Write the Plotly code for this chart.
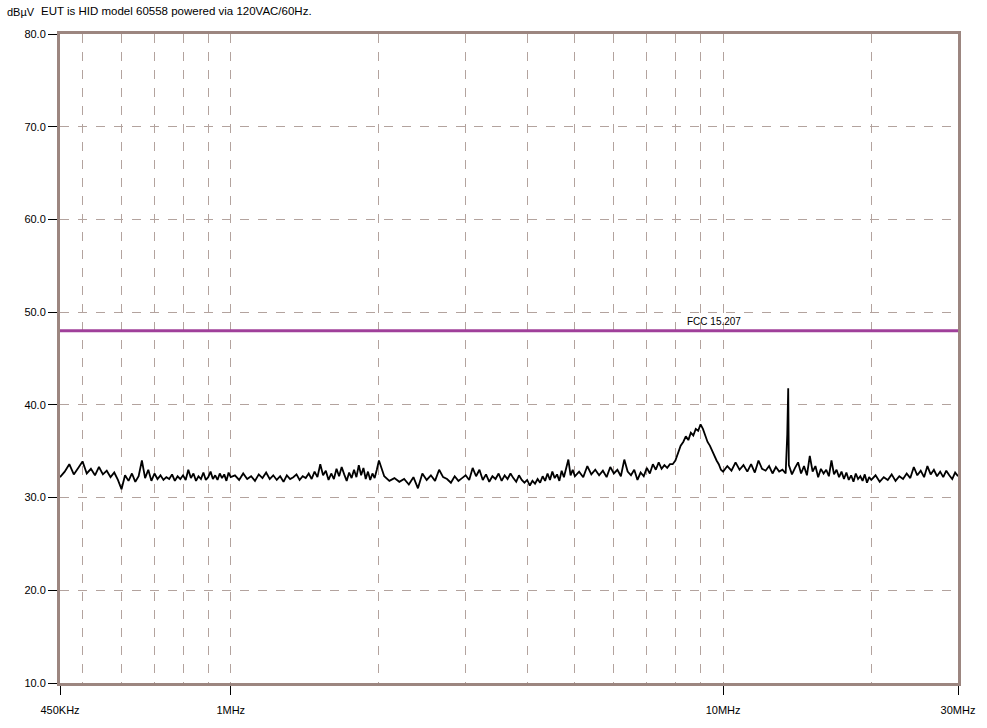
import plotly.graph_objects as go
import math

# ---- data ----
freq_mhz = [
    0.45, 0.46, 0.47, 0.48, 0.49, 0.50, 0.51, 0.52, 0.53, 0.54, 0.55, 0.56, 0.57, 0.58, 0.59,
    0.60, 0.61, 0.62, 0.63, 0.64, 0.65, 0.66, 0.67, 0.68, 0.69, 0.70, 0.71, 0.72, 0.73, 0.74,
    0.75, 0.76, 0.77, 0.78, 0.79, 0.80, 0.81, 0.82, 0.83, 0.84, 0.85, 0.86, 0.87, 0.88, 0.89,
    0.90, 0.91, 0.92, 0.93, 0.94, 0.95, 0.96, 0.97, 0.98, 0.99, 1.00,
    1.02, 1.04, 1.06, 1.08, 1.10, 1.12, 1.14, 1.16, 1.18, 1.20, 1.22, 1.24, 1.26, 1.28, 1.30,
    1.32, 1.34, 1.36, 1.38, 1.40, 1.42, 1.44, 1.46, 1.48, 1.50, 1.52, 1.54, 1.56, 1.58, 1.60,
    1.62, 1.64, 1.66, 1.68, 1.70, 1.72, 1.74, 1.76, 1.78, 1.80, 1.82, 1.84, 1.86, 1.88, 1.90,
    1.92, 1.94, 1.96, 1.98, 2.00,
    2.05, 2.10, 2.15, 2.20, 2.25, 2.30, 2.35, 2.40, 2.45, 2.50, 2.55, 2.60, 2.65, 2.70, 2.75,
    2.80, 2.85, 2.90, 2.95, 3.00, 3.05, 3.10, 3.15, 3.20, 3.25, 3.30, 3.35, 3.40, 3.45, 3.50,
    3.55, 3.60, 3.65, 3.70, 3.75, 3.80, 3.85, 3.90, 3.95, 4.00, 4.05, 4.10, 4.15, 4.20, 4.25,
    4.30, 4.35, 4.40, 4.45, 4.50, 4.55, 4.60, 4.65, 4.70, 4.75, 4.80, 4.85, 4.90, 4.95, 5.00,
    5.1, 5.2, 5.3, 5.4, 5.5, 5.6, 5.7, 5.8, 5.9, 6.0, 6.1, 6.2, 6.3, 6.4, 6.5, 6.6, 6.7, 6.8,
    6.9, 7.0, 7.1, 7.2, 7.3, 7.4, 7.5, 7.6, 7.7, 7.8, 7.9, 8.0, 8.1, 8.2, 8.3, 8.4, 8.5, 8.6,
    8.7, 8.8, 8.9, 9.0, 9.1, 9.2, 9.3, 9.4, 9.5, 9.6, 9.7, 9.8, 9.9, 10.0,
    10.2, 10.4, 10.6, 10.8, 11.0, 11.2, 11.4, 11.6, 11.8, 12.0, 12.2, 12.4, 12.6, 12.8, 13.0,
    13.2, 13.4, 13.5, 13.56, 13.6, 13.8, 14.0, 14.2, 14.4, 14.6, 14.8, 15.0, 15.2, 15.4, 15.6,
    15.8, 16.0, 16.2, 16.4, 16.6, 16.8, 17.0, 17.2, 17.4, 17.6, 17.8, 18.0, 18.2, 18.4, 18.6,
    18.8, 19.0, 19.2, 19.4, 19.6, 19.8, 20.0,
    20.4, 20.8, 21.2, 21.6, 22.0, 22.4, 22.8, 23.2, 23.6, 24.0, 24.4, 24.8, 25.2, 25.6, 26.0,
    26.4, 26.8, 27.2, 27.6, 28.0, 28.4, 28.8, 29.2, 29.6, 30.0,
]

level_dbuv = [
    32.2, 32.8, 33.6, 32.5, 33.2, 33.9, 32.6, 33.1, 32.4, 33.3, 32.5, 32.9, 32.2, 32.7, 31.9,
    30.9, 32.4, 31.8, 32.6, 31.7, 32.3, 34.0, 32.1, 33.0, 31.8, 32.6, 32.0, 32.4, 31.9, 32.2,
    32.0, 32.5, 31.8, 32.3, 32.0, 32.4, 31.9, 33.0, 32.1, 32.6, 31.8, 32.3, 32.0, 32.7, 31.9,
    32.2, 32.8, 32.0, 32.4, 31.9, 32.6, 32.1, 32.5, 31.8, 32.7, 32.2,
    32.4, 31.9, 32.6, 32.0, 32.3, 31.8, 32.5, 32.1, 32.7, 32.0, 32.4, 31.9, 32.3, 31.7, 32.4,
    32.0, 32.2, 32.5, 31.9, 32.3, 32.1, 32.6, 32.0, 32.8, 32.2, 33.6, 32.4, 32.9, 31.9, 32.6,
    32.0, 33.1, 32.3, 33.3, 32.5, 31.8, 32.7, 32.1, 33.0, 32.2, 33.5, 32.4, 33.2, 32.0, 32.8,
    31.9, 32.6, 32.1, 33.0, 34.0,
    32.3, 31.8, 32.1, 31.7, 32.0, 31.4, 32.2, 31.0, 32.6, 31.9, 32.4, 31.8, 33.0, 32.2, 32.0,
    31.6, 32.3, 31.8, 32.1, 32.4, 31.9, 33.2, 32.3, 33.0, 31.9, 32.5, 31.7, 32.3, 32.0, 32.6,
    31.8, 32.4, 32.0, 32.6, 32.1, 31.7, 32.4, 31.9, 31.6, 31.9, 31.3, 31.8, 31.5, 32.0, 31.6,
    32.3, 31.8, 32.6, 31.9, 32.8, 32.1, 32.5, 31.8, 32.9, 32.2, 33.1, 34.1, 32.4, 33.0, 32.3,
    32.8, 32.2, 33.4, 32.5, 33.0, 32.4, 32.9, 32.2, 33.3, 32.6, 33.0, 32.3, 34.1, 32.8, 32.4,
    33.0, 31.9, 32.7, 32.3, 33.2, 32.6, 33.6, 33.0, 33.8, 33.1, 33.5, 33.2, 33.6, 33.6, 34.0,
    34.8, 35.6, 36.0, 36.6, 36.2, 37.0, 36.7, 37.4, 37.2, 37.9, 37.4, 36.6, 36.0, 35.6, 35.0,
    34.6, 34.0, 33.6, 33.0, 32.8,
    33.4, 32.9, 33.8, 33.0, 33.5, 32.8, 33.6, 32.7, 34.0, 33.1, 32.9, 33.4, 32.6, 33.3, 32.8,
    33.0, 32.6, 36.8, 41.8, 33.5, 32.5, 33.2, 33.8, 32.6, 33.4, 32.4, 34.5, 32.8, 33.4, 32.2,
    33.1, 32.6, 33.0, 32.3, 34.0, 32.5, 33.0, 32.2, 32.8, 32.0, 32.7, 31.9, 32.4, 31.7, 32.6,
    32.0, 32.3, 31.8, 32.5, 31.6, 32.2, 31.9,
    32.4, 31.7, 32.2, 31.9, 32.5, 31.8, 32.3, 32.0, 32.6, 32.1, 33.3, 32.4, 32.9, 32.2, 33.4,
    32.5, 33.0, 32.3, 32.8, 32.2, 32.9, 32.4, 32.0, 32.7, 32.3,
]

limit_freq_mhz = [0.45, 30.0]
limit_dbuv = [48.0, 48.0]
limit_name = "FCC 15.207"

x_tick_vals = [0.45, 1, 10, 30]
x_tick_text = ["450KHz", "1MHz", "10MHz", "30MHz"]
x_grid_vals = [0.5, 0.6, 0.7, 0.8, 0.9, 2, 3, 4, 5, 6, 7, 8, 9, 20]
y_tick_vals = [10, 20, 30, 40, 50, 60, 70, 80]

unit_label = "dBµV"
title_text = "EUT is HID model 60558 powered via 120VAC/60Hz."

# ---- styling ----
FONT = "Liberation Sans Narrow, Liberation Sans, Arial, sans-serif"
FRAME = "#9c8680"
GRID = "#b3a39e"

fig = go.Figure()
fig.add_trace(go.Scatter(x=limit_freq_mhz, y=limit_dbuv, mode="lines",
                         line=dict(color="#a0409a", width=3), hoverinfo="skip",
                         showlegend=False))
fig.add_trace(go.Scatter(x=freq_mhz, y=level_dbuv, mode="lines",
                         line=dict(color="black", width=1.8), showlegend=False))

fig.update_layout(
    width=987, height=728,
    margin=dict(l=60, r=29, t=34, b=41),
    paper_bgcolor="white", plot_bgcolor="white",
    font=dict(family=FONT, size=11, color="black"),
    showlegend=False,
)
fig.update_xaxes(
    type="log", range=[math.log10(0.45), math.log10(30)],
    tickvals=x_tick_vals, ticktext=x_tick_text,
    ticks="outside", ticklen=9, tickcolor="black", tickwidth=1,
    ticklabelstandoff=6,
    showgrid=True, gridcolor=GRID, griddash="dash", gridwidth=1,
    minor=dict(tickvals=x_grid_vals, showgrid=True, gridcolor=GRID,
               griddash="dash", gridwidth=1, ticks=""),
    showline=True, linecolor=FRAME, linewidth=3, mirror=True,
    zeroline=False, tickfont=dict(size=11),
)
fig.update_yaxes(
    range=[10, 80], tickvals=y_tick_vals, tickformat=".1f",
    ticks="outside", ticklen=9, tickcolor="black", tickwidth=1,
    showgrid=True, gridcolor=GRID, griddash="dash", gridwidth=1,
    showline=True, linecolor=FRAME, linewidth=3, mirror=True,
    zeroline=False, tickfont=dict(size=11),
)

fig.add_annotation(x=math.log10(9.6), y=48.0, xref="x", yref="y", text=limit_name,
                   showarrow=False, yanchor="bottom", yshift=2,
                   font=dict(size=10, color="black", family=FONT))
fig.add_annotation(x=-0.061, y=1.034, xref="paper", yref="paper", text=unit_label,
                   showarrow=False, xanchor="left", yanchor="middle",
                   font=dict(size=11, color="black", family=FONT))
fig.add_annotation(x=-0.023, y=1.036, xref="paper", yref="paper", text=title_text,
                   showarrow=False, xanchor="left", yanchor="middle",
                   font=dict(size=11.5, color="black", family=FONT))

fig.write_html("out.html", config={"displayModeBar": False},
               post_script="document.body.style.margin='0px';")
